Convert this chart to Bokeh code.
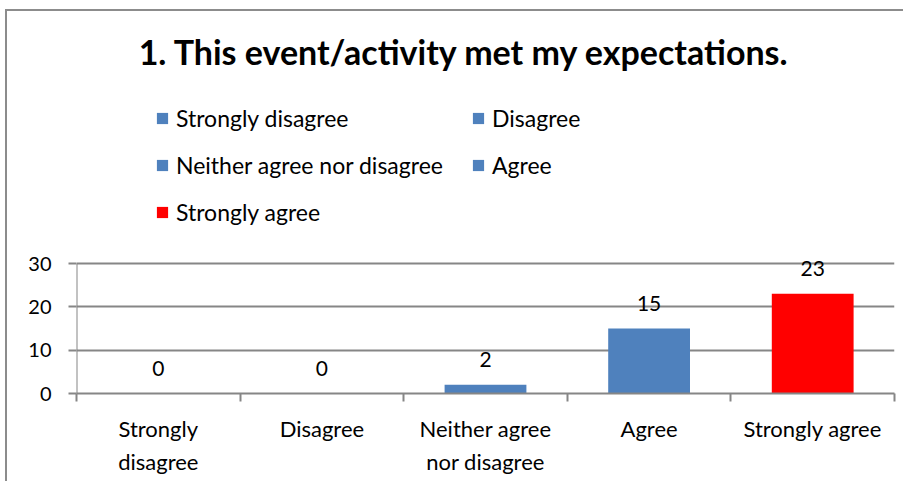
from bokeh.plotting import figure
from bokeh.models import (ColumnDataSource, Range1d, FixedTicker, LabelSet, Label,
                          Legend, LegendItem, LinearAxis)
from bokeh.embed import file_html
from bokeh.resources import INLINE
from bokeh.core.properties import value

# ---- data ----
categories = ["Strongly disagree", "Disagree", "Neither agree nor disagree",
              "Agree", "Strongly agree"]
tick_labels = ["Strongly\ndisagree", "Disagree", "Neither agree\nnor disagree",
               "Agree", "Strongly agree"]
counts = [0, 0, 2, 15, 23]
colors = ["#4F81BD", "#4F81BD", "#4F81BD", "#4F81BD", "#FF0000"]
y_ticks = [0, 10, 20, 30]
y_max = 30
title_text = "1. This event/activity met my expectations."

FONT = "Lato"
GRAY = "#868686"

xpos = [i + 0.5 for i in range(len(categories))]
src = ColumnDataSource(dict(x=xpos, y=counts, cat=categories, color=colors,
                            lbl=[str(c) for c in counts]))

W, H = 903, 481
LEFT, RIGHT_EDGE, AXIS_Y, TOP30_Y = 76, 894, 393, 263
top_val = AXIS_Y / (AXIS_Y - TOP30_Y) * y_max   # frame extends to the top of the figure

p = figure(width=W, height=H, output_backend="svg", toolbar_location=None,
           x_range=Range1d(0, len(categories)), y_range=Range1d(0, top_val),
           min_border_left=LEFT, min_border_right=W - RIGHT_EDGE, min_border_top=0,
           min_border_bottom=H - AXIS_Y, x_axis_location=None, y_axis_location=None)
p.outline_line_color = None
p.background_fill_alpha = 0
p.border_fill_alpha = 0
p.styles = {
    "background": ("linear-gradient(#8c8c8c,#8c8c8c) 5px 9px / 2px 100% no-repeat, "
                   "linear-gradient(#8c8c8c,#8c8c8c) 5px 9px / 100% 2px no-repeat, white"),
}

# x axis: labels at category centres, tick marks between categories
xaxis = LinearAxis(ticker=FixedTicker(ticks=xpos, minor_ticks=list(range(len(categories) + 1))),
                   major_label_overrides={x: t for x, t in zip(xpos, tick_labels)})
xaxis.axis_line_color = GRAY
xaxis.axis_line_width = 2
xaxis.major_tick_line_color = None
xaxis.major_tick_out = 0
xaxis.major_tick_in = 0
xaxis.minor_tick_line_color = GRAY
xaxis.minor_tick_line_width = 2
xaxis.minor_tick_out = 8
xaxis.minor_tick_in = 0
xaxis.major_label_text_font = FONT
xaxis.major_label_text_font_size = "22px"
xaxis.major_label_text_color = "black"
xaxis.major_label_text_line_height = 1.25
xaxis.major_label_standoff = 13
p.add_layout(xaxis, "below")

yaxis = LinearAxis(ticker=FixedTicker(ticks=y_ticks, minor_ticks=[]))
yaxis.axis_line_color = None
yaxis.major_tick_line_color = GRAY
yaxis.major_tick_line_width = 2
yaxis.major_tick_out = 8
yaxis.major_tick_in = 0
yaxis.minor_tick_line_color = None
yaxis.major_label_text_font = FONT
yaxis.major_label_text_font_size = "20px"
yaxis.major_label_text_color = "black"
yaxis.major_label_standoff = 17
p.add_layout(yaxis, "left")

# y axis line only over the value span
p.segment(x0=[0], y0=[0], x1=[0], y1=[y_max], line_color=GRAY, line_width=2)

p.xgrid.visible = False
p.ygrid.ticker = FixedTicker(ticks=y_ticks)
p.ygrid.grid_line_color = GRAY
p.ygrid.grid_line_width = 2

bars = p.vbar(x="x", top="y", width=0.5, source=src, fill_color="color",
              line_color=None)

labels = LabelSet(x="x", y="y", text="lbl", source=src, y_offset=25,
                  text_align="center", text_baseline="middle",
                  text_font=value(FONT), text_font_size="21px", text_color="black")
p.add_layout(labels)

title = Label(x=464 - LEFT, y=AXIS_Y - 65 + 14, x_units="screen", y_units="screen",
              text=title_text, text_align="center", text_baseline="alphabetic",
              text_font=FONT, text_font_style="bold", text_font_size="34px",
              text_color="black")
p.add_layout(title)

items = [LegendItem(label=c, renderers=[bars], index=i) for i, c in enumerate(categories)]
legend = Legend(items=items, location=(155 - LEFT, 167), orientation="horizontal", ncols=2,
                glyph_width=14, glyph_height=14, label_standoff=7, spacing=19,
                label_height=24, label_width=276, padding=0, margin=0,
                label_text_font=FONT, label_text_font_size="23px",
                label_text_color="black", border_line_color=None,
                background_fill_alpha=0)
p.add_layout(legend, "center")

open("out.html", "w").write(file_html(p, INLINE))
